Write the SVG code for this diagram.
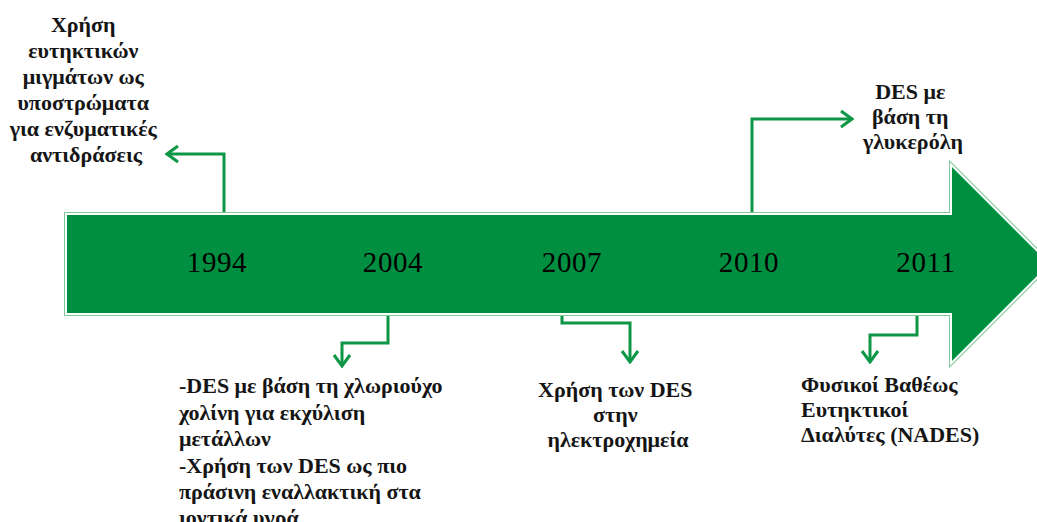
<svg xmlns="http://www.w3.org/2000/svg" width="1037" height="522" viewBox="0 0 1037 522">
<style>
.lbl{font-family:"Liberation Serif","DejaVu Serif",serif;font-weight:bold;font-size:22px;fill:#151515}
.yr{font-family:"Liberation Serif","DejaVu Serif",serif;font-size:29px;letter-spacing:0.6px;fill:#000}
.con{fill:none;stroke:#0e9647;stroke-width:3;marker-end:url(#chev)}
</style>
<defs>
<marker id="chev" viewBox="-14 -10 16 20" refX="0" refY="0" markerWidth="16" markerHeight="20" orient="auto" markerUnits="userSpaceOnUse">
<path d="M-11,-8 L0,0 L-11,8" fill="none" stroke="#0e9647" stroke-width="3"/>
</marker>
</defs>
<rect width="1037" height="522" fill="#fff"/>
<g id="timeline-arrow">
<path d="M67,215 H952 V167 L1049,264 L952,361 V313 H67 Z" fill="none" stroke="#7cc898" stroke-width="6"/>
<path d="M67,215 H952 V167 L1049,264 L952,361 V313 H67 Z" fill="none" stroke="#fff" stroke-width="4"/>
<path d="M67,215 H952 V167 L1049,264 L952,361 V313 H67 Z" fill="#008f40"/>
<text class="yr" x="217" y="272" text-anchor="middle">1994</text>
<text class="yr" x="393" y="272" text-anchor="middle">2004</text>
<text class="yr" x="572" y="272" text-anchor="middle">2007</text>
<text class="yr" x="749" y="272" text-anchor="middle">2010</text>
<text class="yr" x="926" y="272" text-anchor="middle">2011</text>
</g>
<g id="connectors">
<polyline class="con" points="224,212 224,154 167,154"/>
<polyline class="con" points="388,316 388,343 342,343 342,366"/>
<polyline class="con" points="562,316 562,323 630,323 630,362"/>
<polyline class="con" points="752,212 752,119 852,119"/>
<polyline class="con" points="917,316 917,335 870,335 870,362"/>
</g>
<g id="node-1994">
<text class="lbl" text-anchor="middle">
<tspan x="86" y="32">Χρήση</tspan>
<tspan x="86" y="58">ευτηκτικών</tspan>
<tspan x="86" y="84">μιγμάτων ως</tspan>
<tspan x="86" y="110">υποστρώματα</tspan>
<tspan x="86" y="136">για ενζυματικές</tspan>
<tspan x="86" y="162">αντιδράσεις</tspan>
</text>
</g>
<g id="node-2004">
<text class="lbl">
<tspan x="179" y="393">-DES με βάση τη χλωριούχο</tspan>
<tspan x="179" y="419.5">χολίνη για εκχύλιση</tspan>
<tspan x="179" y="446">μετάλλων</tspan>
<tspan x="179" y="472.5">-Χρήση των DES ως πιο</tspan>
<tspan x="179" y="499">πράσινη εναλλακτική στα</tspan>
<tspan x="179" y="525">ιοντικά υγρά</tspan>
</text>
</g>
<g id="node-2007">
<text class="lbl" text-anchor="middle">
<tspan x="618" y="397">Χρήση των DES</tspan>
<tspan x="618" y="422">στην</tspan>
<tspan x="618" y="447">ηλεκτροχημεία</tspan>
</text>
</g>
<g id="node-2010">
<text class="lbl" text-anchor="middle">
<tspan x="913" y="99">DES με</tspan>
<tspan x="913" y="124">βάση τη</tspan>
<tspan x="913" y="149">γλυκερόλη</tspan>
</text>
</g>
<g id="node-2011">
<text class="lbl">
<tspan x="801" y="392">Φυσικοί Βαθέως</tspan>
<tspan x="801" y="417">Ευτηκτικοί</tspan>
<tspan x="801" y="442">Διαλύτες (NADES)</tspan>
</text>
</g>
</svg>
